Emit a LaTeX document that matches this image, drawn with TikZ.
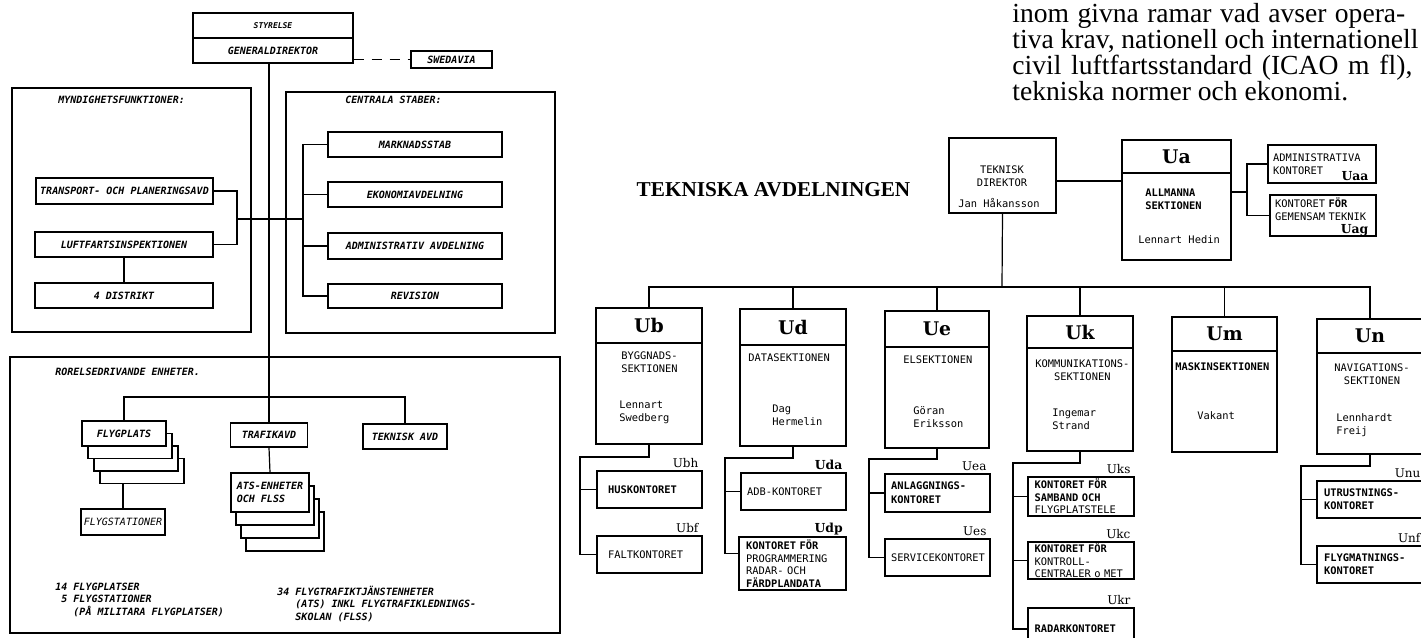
\documentclass[tikz,border=0pt]{standalone}
\usepackage{fontspec}
\usepackage{tikz}
\setmainfont{Liberation Serif}
\newfontfamily\stencil{DejaVu Sans Mono}
\newfontfamily\printer{DejaVu Sans Mono}
\newfontfamily\slab{DejaVu Serif}

\begin{document}
\begin{tikzpicture}[x=0.5pt, y=-0.5pt,
    wh/.style 2 args={minimum width=(#1)*0.5pt, minimum height=(#2)*0.5pt},
    frame/.style={draw, line width=0.7pt, inner sep=0pt},
    lbox/.style={draw, line width=0.7pt, inner sep=0pt, align=center, font=\stencil\bfseries\itshape\fontsize{5}{6.3}\selectfont},
    ltext/.style={inner sep=0pt, align=left, font=\stencil\bfseries\itshape\fontsize{5}{6.3}\selectfont},
    link/.style={line width=0.6pt},
    head/.style={draw, line width=1.1pt, inner sep=0pt, font=\slab\bfseries\fontsize{9.4}{10}\selectfont},
    body/.style={draw, line width=1.1pt, inner sep=0pt},
    ptext/.style={inner sep=0pt, align=left, font=\printer\fontsize{5.2}{6.5}\selectfont},
    obox/.style={draw, line width=0.8pt, inner xsep=3pt, inner ysep=0pt, text width=46.5pt, align=left, font=\printer\fontsize{5.2}{6.3}\selectfont},
    code/.style={inner sep=0pt, font=\slab\fontsize{6}{7}\selectfont},
    para/.style={inner sep=0pt, font=\fontsize{13.8}{13}\selectfont}]
    \useasboundingbox (0,0) rectangle (1421,638);
    \clip (0,0) rectangle (1421,638);

    \node[lbox, wh={160}{25}, font=\stencil\bfseries\itshape\fontsize{4}{5}\selectfont] (sty) at (273,25.5) {STYRELSE};
    \node[lbox, wh={160}{25}] (gd) at (273,50.5) {GENERALDIREKTOR};
    \node[lbox, wh={81}{17}] (swe) at (451.5,59.5) {SWEDAVIA};
    \draw[link, dash pattern=on 5pt off 4pt] (swe.west -| gd.east) -- (swe.west);

    \node[frame, wh={239}{244}] (mynd) at (131.5,210) {};
    \node[ltext, anchor=west] (myndt) at (58,100) {MYNDIGHETSFUNKTIONER:};
    \node[lbox, wh={177}{26}] (tpl) at (124.5,191) {TRANSPORT- OCH PLANERINGSAVD};
    \node[lbox, wh={178}{25}] (luft) at (124,244.5) {LUFTFARTSINSPEKTIONEN};
    \node[lbox, wh={178}{25}] (dist) at (124,295.5) {4 DISTRIKT};

    \node[frame, wh={269}{241}] (centr) at (420.5,212.5) {};
    \node[ltext, anchor=west] (centrt) at (345,100) {CENTRALA STABER:};
    \node[lbox, wh={174}{25}] (mark) at (415,144.5) {MARKNADSSTAB};
    \node[lbox, wh={174}{25}] (ekon) at (415,194.5) {EKONOMIAVDELNING};
    \node[lbox, wh={174}{26}] (adm) at (415,246) {ADMINISTRATIV AVDELNING};
    \node[lbox, wh={174}{24}] (rev) at (415,296) {REVISION};

    \node[frame, wh={550}{276}] (ror) at (285,495) {};
    \node[ltext, anchor=west] (rort) at (55,372) {RORELSEDRIVANDE ENHETER.};
    \foreach \i in {3,2,1}
        \node[lbox, fill=white, wh={84}{25}] (fp\i) at ({124+6*\i},{433.5+12.5*\i}) {};
    \node[lbox, fill=white, wh={84}{25}] (fp) at (124,433.5) {FLYGPLATS};
    \node[lbox, wh={84}{26}, font=\stencil\itshape\fontsize{5}{6.3}\selectfont] (fs) at (123,522) {FLYGSTATIONER};
    \node[lbox, wh={77}{24}] (trafik) at (269,435) {TRAFIKAVD};
    \foreach \i in {3,2,1}
        \node[lbox, fill=white, wh={78}{39}] (ats\i) at ({270+5*\i},{492.5+13*\i}) {};
    \node[lbox, fill=white, wh={78}{39}, align=left] (ats) at (270,492.5) {ATS-ENHETER\\OCH FLSS};
    \node[lbox, wh={84}{25}] (tek) at (405,436.5) {TEKNISK AVD};
    \node[ltext, anchor=north west] (cnt1) at (55,582.5) {14 FLYGPLATSER\\\phantom{1}5 FLYGSTATIONER\\\phantom{111}(PÅ MILITARA FLYGPLATSER)};
    \node[ltext, anchor=north west] (cnt2) at (277,585.5) {34 FLYGTRAFIKTJÄNSTENHETER\\\phantom{000}(ATS) INKL FLYGTRAFIKLEDNINGS-\\\phantom{000}SKOLAN (FLSS)};

    \coordinate (mb) at (237,219);
    \coordinate (cb) at (303,219);
    \coordinate (rb) at (269,397);
    \draw[link] (gd.south -| trafik.north) -- (trafik.north);
    \draw[link] (tpl.east) -| (mb) |- (luft.east);
    \draw[link] (mb) -- (cb);
    \draw[link] (mark.west) -| (cb) |- (rev.west);
    \draw[link] (ekon.west) -- (ekon.west -| cb);
    \draw[link] (adm.west) -- (adm.west -| cb);
    \draw[link] (luft.south) -- (dist.north);
    \draw[link] (fp.north) |- (rb) -| (tek.north);
    \draw[link] (trafik.south) -- (ats.north);
    \draw[link] (fs.north) -- (fs.north |- fp3.south);

    \node[para, anchor=base west] (p1) at (1012,22) {\makebox[196.5pt][s]{inom givna ramar vad avser opera-}};
    \node[para, anchor=base west] (p2) at (1012,48) {\makebox[203pt][s]{tiva krav, nationell och internationell}};
    \node[para, anchor=base west] (p3) at (1012,74) {\makebox[200pt][s]{civil luftfartsstandard (ICAO m fl),}};
    \node[para, anchor=base west] (p4) at (1012,100) {tekniska normer och ekonomi.};
    \node[inner sep=0pt, font=\bfseries\fontsize{10.6}{12}\selectfont] (avd) at (773.5,190) {TEKNISKA AVDELNINGEN};

    \node[draw, line width=0.9pt, inner sep=0pt, wh={107}{75}] (td) at (1002.5,175.5) {};
    \node[ptext, align=center] (tdt) at (1002,176) {TEKNISK\\DIREKTOR};
    \node[ptext] (tdn) at (999,203) {Jan Håkansson};
    \node[head, wh={109}{33}] (ua) at (1176.5,156.5) {Ua};
    \node[body, wh={109}{87}] (uab) at (1176.5,216.5) {};
    \node[ptext, anchor=west, font=\printer\bfseries\fontsize{5.2}{6.5}\selectfont] (uat) at (1145,199.5) {ALLMANNA\\SEKTIONEN};
    \node[ptext, anchor=west] (uan) at (1138,240) {Lennart Hedin};
    \node[obox, wh={108}{38}, inner xsep=2.5pt, text width=49pt] (uaa) at (1322,164) {ADMINISTRATIVA\\KONTORET};
    \node[obox, wh={106}{41}, inner xsep=2.5pt, text width=48pt] (uag) at (1323,215.5) {KONTORET \textbf{FÖR}\\GEMENSAM TEKNIK\\\mbox{}};
    \node[code, anchor=base east, font=\slab\bfseries\fontsize{6.2}{7}\selectfont] (cuaa) at ([xshift=-4pt,yshift=1.5pt]uaa.south east) {Uaa};
    \node[code, anchor=base east, font=\slab\bfseries\fontsize{6.2}{7}\selectfont] (cuag) at ([xshift=-4pt,yshift=1.5pt]uag.south east) {Uag};
    \coordinate (tdr) at ([yshift=-2.75pt]td.east);
    \coordinate (uaj) at (1247,192);
    \draw[link] (tdr) -- (tdr -| uab.west);
    \draw[link] (uaj -| uab.east) -- (uaj);
    \draw[link] (uaa.west) -| (uaj) |- (uag.west);

    \foreach \nm/\cd/\px/\bw/\ty/\dy/\by in {ub/Ub/649/106/308/343/444, ud/Ud/793/106/309/345/446, ue/Ue/937/104/311/347/448, uk/Uk/1080/106/316/348/451, um/Um/1224.5/105/317/351/452, un/Un/1370/106/319/353/454}{
        \node[head, wh={\bw}{\dy-\ty}] (\nm) at (\px,{(\ty+\dy)/2}) {\cd};
        \node[body, wh={\bw}{\by-\dy}] (sec\nm) at (\px,{(\dy+\by)/2}) {};
    }
    \node[ptext, anchor=west] (ubt) at (621,362.5) {BYGGNADS-\\SEKTIONEN};
    \node[ptext, anchor=west] (ubn) at (619,412.5) {Lennart\\Swedberg};
    \node[ptext, anchor=west] (udt) at (748,358) {DATASEKTIONEN};
    \node[ptext, anchor=west] (udn) at (772,415.5) {Dag\\Hermelin};
    \node[ptext, anchor=west] (uet) at (903,360) {ELSEKTIONEN};
    \node[ptext, anchor=west] (uen) at (913,417) {Göran\\Eriksson};
    \node[ptext, anchor=west, align=center] (ukt) at (1035,370) {KOMMUNIKATIONS-\\SEKTIONEN};
    \node[ptext, anchor=west] (ukn) at (1052,419.5) {Ingemar\\Strand};
    \node[ptext, anchor=west, font=\printer\bfseries\fontsize{5.2}{6.5}\selectfont] (umt) at (1175,367) {MASKINSEKTIONEN};
    \node[ptext, anchor=west] (umn) at (1197,416) {Vakant};
    \node[ptext, anchor=west, align=center] (unt) at (1334,374.5) {NAVIGATIONS-\\SEKTIONEN};
    \node[ptext, anchor=west] (unn) at (1336,425.5) {Lennhardt\\Freij};

    \coordinate (tb) at (1002,287);
    \draw[link] (td.south) -- (tb);
    \draw[link] (ub.north) |- (tb) -| (un.north);
    \foreach \nm in {ud,ue,uk,um}
        \draw[link] (\nm.north) -- (\nm.north |- tb);

    \node[obox, wh={105}{37}, inner xsep=5.5pt, text width=41.5pt, font=\printer\bfseries\fontsize{5.2}{6.3}\selectfont] (ubh) at (649.5,489.5) {HUSKONTORET};
    \node[obox, wh={105}{37}, inner xsep=5.5pt, text width=41.5pt] (ubf) at (649.5,554.5) {FALTKONTORET};
    \node[obox, wh={105}{37}] (uda) at (793.5,491.5) {ADB-KONTORET};
    \node[obox, wh={107}{53}, line width=1.1pt] (udp) at (792.5,563.5) {\textbf{KONTORET FÖR}\\PROGRAMMERING\\RADAR- OCH\\\textbf{FÄRDPLANDATA}};
    \node[obox, wh={105}{38}, font=\printer\bfseries\fontsize{5.2}{7.2}\selectfont] (uea) at (937.5,493) {ANLAGGNINGS-\\KONTORET};
    \node[obox, wh={105}{37}] (ues) at (937.5,557.5) {SERVICEKONTORET};
    \node[obox, wh={106}{39}] (uks) at (1081,496.5) {\textbf{KONTORET FÖR}\\\textbf{SAMBAND OCH}\\FLYGPLATSTELE};
    \node[obox, wh={106}{37}] (ukc) at (1081,560.5) {\textbf{KONTORET FÖR}\\KONTROLL-\\CENTRALER o MET};
    \node[obox, wh={106}{42}, font=\printer\bfseries\fontsize{5.2}{6.3}\selectfont] (ukr) at (1081,629) {RADARKONTORET};
    \node[obox, wh={107}{37}, font=\printer\bfseries\fontsize{5.2}{6.3}\selectfont] (unu) at (1370.5,499.5) {UTRUSTNINGS-\\KONTORET};
    \node[obox, wh={107}{37}, font=\printer\bfseries\fontsize{5.2}{6.3}\selectfont] (unf) at (1370.5,564.5) {FLYGMATNINGS-\\KONTORET};
    \foreach \nm/\cd in {ubh/Ubh, ubf/Ubf, uea/Uea, ues/Ues, uks/Uks, ukc/Ukc, ukr/Ukr, unu/Unu, unf/Unf}
        \node[code, anchor=base east] (c\nm) at ([xshift=-2pt,yshift=1.5pt]\nm.north east) {\cd};
    \foreach \nm/\cd in {uda/Uda, udp/Udp}
        \node[code, anchor=base east, font=\slab\bfseries\fontsize{6.2}{7}\selectfont] (c\nm) at ([xshift=-2pt,yshift=1.5pt]\nm.north east) {\cd};

    \coordinate (ubj) at (580,457);
    \coordinate (udj) at (725,458);
    \coordinate (uej) at (869,459);
    \coordinate (ukj) at (1013,463);
    \coordinate (unj) at (1301,466);
    \coordinate (udpl) at ([yshift=5pt]udp.west);
    \draw[link] (secub.south) |- (ubj) |- (ubf.west);
    \draw[link] (ubh.west) -- (ubh.west -| ubj);
    \draw[link] (secud.south) |- (udj) |- (udpl);
    \draw[link] (uda.west) -- (uda.west -| udj);
    \draw[link] (secue.south) |- (uej) |- (ues.west);
    \draw[link] (uea.west) -- (uea.west -| uej);
    \draw[link] (secuk.south) |- (ukj) |- (ukr.west);
    \draw[link] (uks.west) -- (uks.west -| ukj);
    \draw[link] (ukc.west) -- (ukc.west -| ukj);
    \draw[link] (secun.south) |- (unj) |- (unf.west);
    \draw[link] (unu.west) -- (unu.west -| unj);
\end{tikzpicture}
\end{document}
